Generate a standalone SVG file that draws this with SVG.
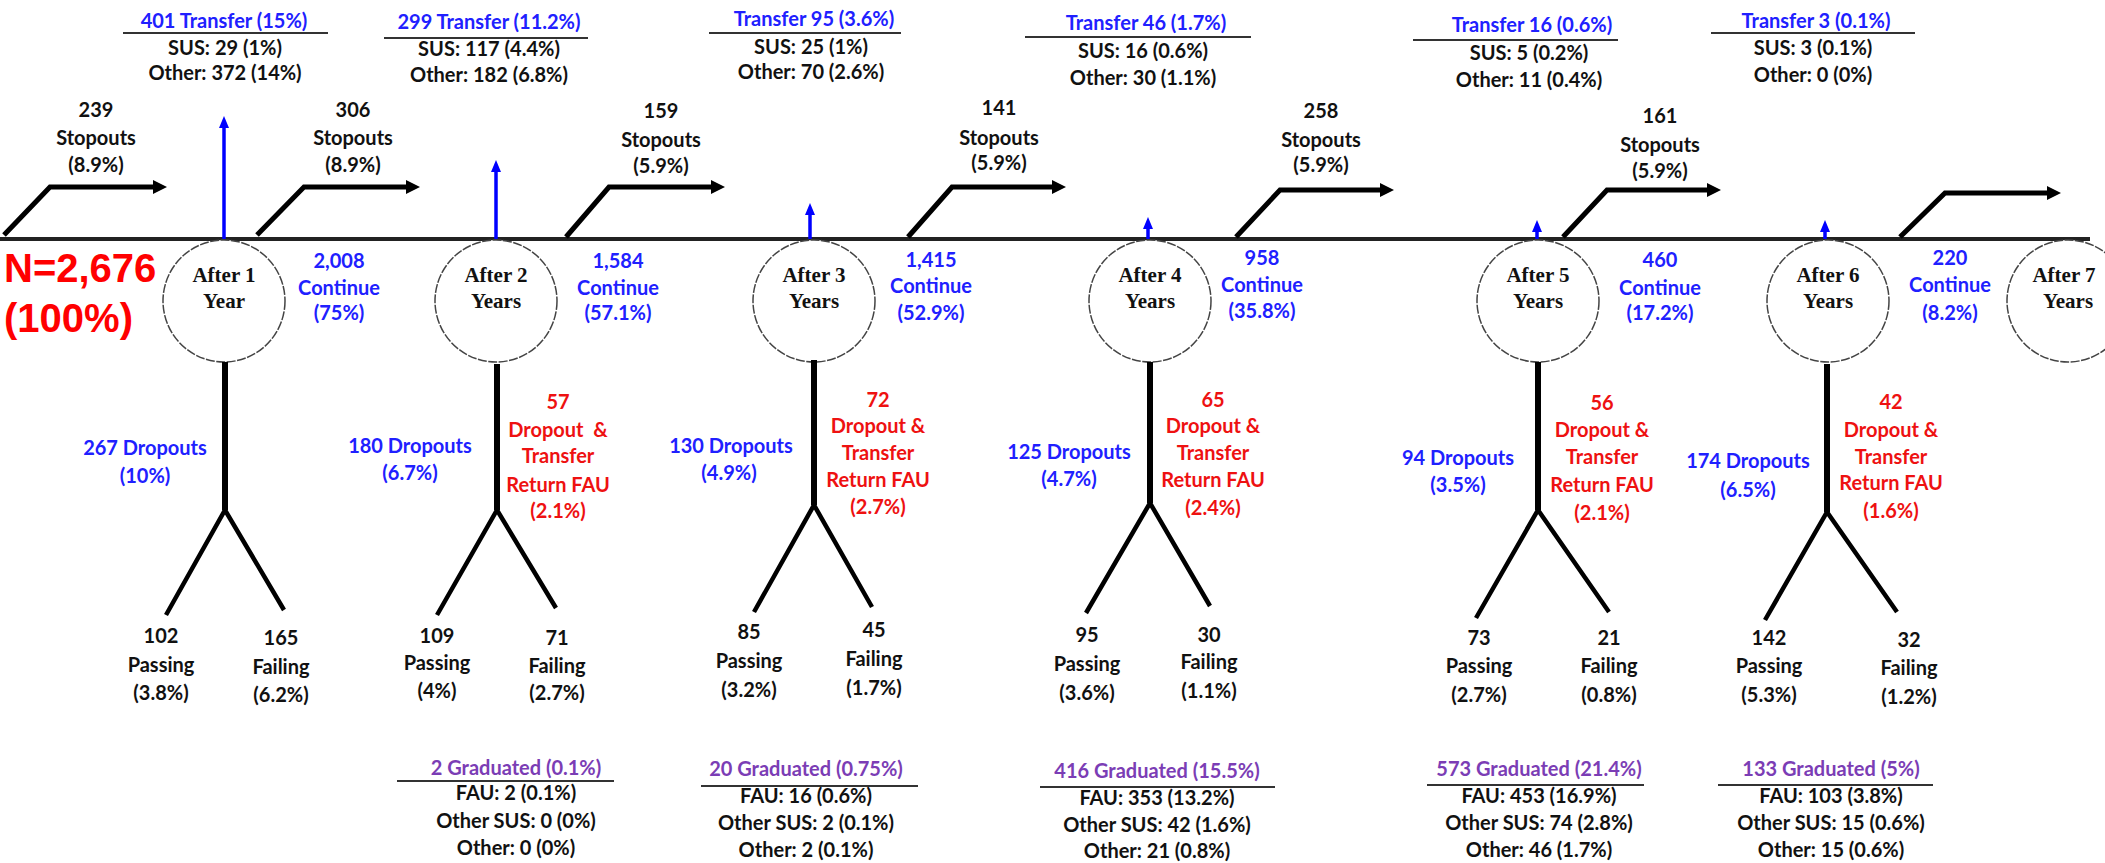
<svg xmlns="http://www.w3.org/2000/svg" width="2105" height="863" viewBox="0 0 2105 863">
<style>
.t{font-family:Lato,"Liberation Sans",sans-serif;font-weight:bold;font-size:20px;text-anchor:middle;fill:#111}
.b{fill:#2020ff}
.r{fill:#ee1111}
.p{fill:#7b3db5}
.yr{font-family:"Liberation Serif",serif;font-weight:bold;font-size:21px;text-anchor:middle;fill:#111}
.big{font-family:"Liberation Sans",Arial,sans-serif;font-weight:bold;font-size:40px;fill:#ff0000}
.circ{fill:#fff;stroke:#444;stroke-width:1.5;stroke-dasharray:9 1.5}
.sep{stroke:#333;stroke-width:2}
.stop{fill:none;stroke:#000;stroke-width:5;marker-end:url(#ah)}
.tr{stroke:#0000ff;stroke-width:3.5;marker-end:url(#bh)}
.stick{stroke:#000;stroke-width:6}
.leg{stroke:#000;stroke-width:4.5;fill:none}
</style>
<defs>
<marker id="ah" markerUnits="userSpaceOnUse" markerWidth="16" markerHeight="16" refX="0" refY="7" orient="auto"><path d="M0,0 L14,7 L0,14 z" fill="#000"/></marker>
<marker id="bh" markerUnits="userSpaceOnUse" markerWidth="14" markerHeight="12" refX="0" refY="5" orient="auto"><path d="M0,0 L12,5 L0,10 z" fill="#0000ff"/></marker>
</defs>
<rect width="2105" height="863" fill="#fff"/>

<g id="connectors">
<line x1="0" y1="239" x2="2090" y2="239" stroke="#222" stroke-width="4"/>
<path class="stop" d="M4,235 L50,187 L153,187"/>
<path class="stop" d="M257,235 L304,187 L406,187"/>
<path class="stop" d="M566,237 L609,187 L711,187"/>
<path class="stop" d="M908,237 L952,187 L1052,187"/>
<path class="stop" d="M1236,237 L1280,190 L1380,190"/>
<path class="stop" d="M1563,237 L1607,190 L1707,190"/>
<path class="stop" d="M1900,237 L1945,193 L2047,193"/>
<line class="tr" x1="224" y1="239" x2="224" y2="128"/>
<line class="tr" x1="496" y1="239" x2="496" y2="172"/>
<line class="tr" x1="810" y1="239" x2="810" y2="215"/>
<line class="tr" x1="1148" y1="239" x2="1148" y2="229"/>
<line class="tr" x1="1537" y1="239" x2="1537" y2="232"/>
<line class="tr" x1="1825" y1="239" x2="1825" y2="232"/>
</g>

<g id="start"><text class="big" x="4" y="282">N=2,676</text><text class="big" x="4" y="332">(100%)</text></g>

<g id="after1"><circle class="circ" cx="224" cy="301" r="61"/><text class="yr" x="224" y="282">After 1</text><text class="yr" x="224" y="308">Year</text></g>
<g id="after2"><circle class="circ" cx="496" cy="301" r="61"/><text class="yr" x="496" y="282">After 2</text><text class="yr" x="496" y="308">Years</text></g>
<g id="after3"><circle class="circ" cx="814" cy="301" r="61"/><text class="yr" x="814" y="282">After 3</text><text class="yr" x="814" y="308">Years</text></g>
<g id="after4"><circle class="circ" cx="1150" cy="301" r="61"/><text class="yr" x="1150" y="282">After 4</text><text class="yr" x="1150" y="308">Years</text></g>
<g id="after5"><circle class="circ" cx="1538" cy="301" r="61"/><text class="yr" x="1538" y="282">After 5</text><text class="yr" x="1538" y="308">Years</text></g>
<g id="after6"><circle class="circ" cx="1828" cy="301" r="61"/><text class="yr" x="1828" y="282">After 6</text><text class="yr" x="1828" y="308">Years</text></g>
<g id="after7"><circle class="circ" cx="2068" cy="301" r="61"/><text class="yr" x="2064" y="282">After 7</text><text class="yr" x="2068" y="308">Years</text></g>

<g id="transfer1"><text class="t b" x="224" y="28">401 Transfer (15%)</text><line class="sep" x1="123" y1="33" x2="328" y2="33"/><text class="t" x="225" y="55">SUS: 29 (1%)</text><text class="t" x="225" y="80">Other: 372 (14%)</text></g>
<g id="transfer2"><text class="t b" x="489" y="29">299 Transfer (11.2%)</text><line class="sep" x1="384" y1="38" x2="588" y2="38"/><text class="t" x="489" y="56">SUS: 117 (4.4%)</text><text class="t" x="489" y="82">Other: 182 (6.8%)</text></g>
<g id="transfer3"><text class="t b" x="814" y="26">Transfer 95 (3.6%)</text><line class="sep" x1="709" y1="33" x2="901" y2="33"/><text class="t" x="811" y="54">SUS: 25 (1%)</text><text class="t" x="811" y="79">Other: 70 (2.6%)</text></g>
<g id="transfer4"><text class="t b" x="1146" y="30">Transfer 46 (1.7%)</text><line class="sep" x1="1025" y1="37" x2="1251" y2="37"/><text class="t" x="1143" y="58">SUS: 16 (0.6%)</text><text class="t" x="1143" y="85">Other: 30 (1.1%)</text></g>
<g id="transfer5"><text class="t b" x="1532" y="32">Transfer 16 (0.6%)</text><line class="sep" x1="1413" y1="40" x2="1618" y2="40"/><text class="t" x="1529" y="60">SUS: 5 (0.2%)</text><text class="t" x="1529" y="87">Other:  11 (0.4%)</text></g>
<g id="transfer6"><text class="t b" x="1816" y="28">Transfer 3 (0.1%)</text><line class="sep" x1="1711" y1="33" x2="1915" y2="33"/><text class="t" x="1813" y="55">SUS: 3 (0.1%)</text><text class="t" x="1813" y="82">Other: 0 (0%)</text></g>

<g id="stopout1"><text class="t" x="96" y="117">239</text><text class="t" x="96" y="145">Stopouts</text><text class="t" x="96" y="172">(8.9%)</text></g>
<g id="stopout2"><text class="t" x="353" y="117">306</text><text class="t" x="353" y="145">Stopouts</text><text class="t" x="353" y="172">(8.9%)</text></g>
<g id="stopout3"><text class="t" x="661" y="118">159</text><text class="t" x="661" y="147">Stopouts</text><text class="t" x="661" y="173">(5.9%)</text></g>
<g id="stopout4"><text class="t" x="999" y="115">141</text><text class="t" x="999" y="145">Stopouts</text><text class="t" x="999" y="170">(5.9%)</text></g>
<g id="stopout5"><text class="t" x="1321" y="118">258</text><text class="t" x="1321" y="147">Stopouts</text><text class="t" x="1321" y="172">(5.9%)</text></g>
<g id="stopout6"><text class="t" x="1660" y="123">161</text><text class="t" x="1660" y="152">Stopouts</text><text class="t" x="1660" y="178">(5.9%)</text></g>

<g id="continue1"><text class="t b" x="339" y="268">2,008</text><text class="t b" x="339" y="295">Continue</text><text class="t b" x="339" y="320">(75%)</text></g>
<g id="continue2"><text class="t b" x="618" y="268">1,584</text><text class="t b" x="618" y="295">Continue</text><text class="t b" x="618" y="320">(57.1%)</text></g>
<g id="continue3"><text class="t b" x="931" y="267">1,415</text><text class="t b" x="931" y="293">Continue</text><text class="t b" x="931" y="320">(52.9%)</text></g>
<g id="continue4"><text class="t b" x="1262" y="265">958</text><text class="t b" x="1262" y="292">Continue</text><text class="t b" x="1262" y="318">(35.8%)</text></g>
<g id="continue5"><text class="t b" x="1660" y="267">460</text><text class="t b" x="1660" y="295">Continue</text><text class="t b" x="1660" y="320">(17.2%)</text></g>
<g id="continue6"><text class="t b" x="1950" y="265">220</text><text class="t b" x="1950" y="292">Continue</text><text class="t b" x="1950" y="320">(8.2%)</text></g>

<g id="figure1"><line class="stick" x1="225" y1="362" x2="225" y2="510"/><path class="leg" d="M166,615 L225,510 L284,610"/>
<text class="t b" x="145" y="455">267 Dropouts</text><text class="t b" x="145" y="483">(10%)</text>
<text class="t" x="161" y="643">102</text><text class="t" x="161" y="672">Passing</text><text class="t" x="161" y="700">(3.8%)</text>
<text class="t" x="281" y="645">165</text><text class="t" x="281" y="674">Failing</text><text class="t" x="281" y="702">(6.2%)</text></g>

<g id="figure2"><line class="stick" x1="497" y1="364" x2="497" y2="510"/><path class="leg" d="M437,615 L497,510 L556,608"/>
<text class="t b" x="410" y="453">180 Dropouts</text><text class="t b" x="410" y="480">(6.7%)</text>
<text class="t r" x="558" y="409">57</text><text class="t r" x="558" y="437" xml:space="preserve">Dropout  &amp;</text><text class="t r" x="558" y="463">Transfer</text><text class="t r" x="558" y="492">Return FAU</text><text class="t r" x="558" y="518">(2.1%)</text>
<text class="t" x="437" y="643">109</text><text class="t" x="437" y="670">Passing</text><text class="t" x="437" y="698">(4%)</text>
<text class="t" x="557" y="645">71</text><text class="t" x="557" y="673">Failing</text><text class="t" x="557" y="700">(2.7%)</text></g>

<g id="figure3"><line class="stick" x1="814" y1="360" x2="814" y2="505"/><path class="leg" d="M754,612 L814,505 L872,607"/>
<text class="t b" x="731" y="453">130 Dropouts</text><text class="t b" x="729" y="480">(4.9%)</text>
<text class="t r" x="878" y="407">72</text><text class="t r" x="878" y="433">Dropout &amp;</text><text class="t r" x="878" y="460">Transfer</text><text class="t r" x="878" y="487">Return FAU</text><text class="t r" x="878" y="514">(2.7%)</text>
<text class="t" x="749" y="639">85</text><text class="t" x="749" y="668">Passing</text><text class="t" x="749" y="697">(3.2%)</text>
<text class="t" x="874" y="637">45</text><text class="t" x="874" y="666">Failing</text><text class="t" x="874" y="695">(1.7%)</text></g>

<g id="figure4"><line class="stick" x1="1150" y1="362" x2="1150" y2="503"/><path class="leg" d="M1086,613 L1150,503 L1210,606"/>
<text class="t b" x="1069" y="459">125 Dropouts</text><text class="t b" x="1069" y="486">(4.7%)</text>
<text class="t r" x="1213" y="407">65</text><text class="t r" x="1213" y="433">Dropout &amp;</text><text class="t r" x="1213" y="460">Transfer</text><text class="t r" x="1213" y="487">Return FAU</text><text class="t r" x="1213" y="515">(2.4%)</text>
<text class="t" x="1087" y="642">95</text><text class="t" x="1087" y="671">Passing</text><text class="t" x="1087" y="700">(3.6%)</text>
<text class="t" x="1209" y="642">30</text><text class="t" x="1209" y="669">Failing</text><text class="t" x="1209" y="698">(1.1%)</text></g>

<g id="figure5"><line class="stick" x1="1538" y1="362" x2="1538" y2="510"/><path class="leg" d="M1476,618 L1538,510 L1609,612"/>
<text class="t b" x="1458" y="465">94 Dropouts</text><text class="t b" x="1458" y="492">(3.5%)</text>
<text class="t r" x="1602" y="410">56</text><text class="t r" x="1602" y="437">Dropout &amp;</text><text class="t r" x="1602" y="464">Transfer</text><text class="t r" x="1602" y="492">Return FAU</text><text class="t r" x="1602" y="520">(2.1%)</text>
<text class="t" x="1479" y="645">73</text><text class="t" x="1479" y="673">Passing</text><text class="t" x="1479" y="702">(2.7%)</text>
<text class="t" x="1609" y="645">21</text><text class="t" x="1609" y="673">Failing</text><text class="t" x="1609" y="702">(0.8%)</text></g>

<g id="figure6"><line class="stick" x1="1827" y1="364" x2="1827" y2="512"/><path class="leg" d="M1765,620 L1827,512 L1897,612"/>
<text class="t b" x="1748" y="468">174 Dropouts</text><text class="t b" x="1748" y="497">(6.5%)</text>
<text class="t r" x="1891" y="409">42</text><text class="t r" x="1891" y="437">Dropout &amp;</text><text class="t r" x="1891" y="464">Transfer</text><text class="t r" x="1891" y="490">Return FAU</text><text class="t r" x="1891" y="518">(1.6%)</text>
<text class="t" x="1769" y="645">142</text><text class="t" x="1769" y="673">Passing</text><text class="t" x="1769" y="702">(5.3%)</text>
<text class="t" x="1909" y="647">32</text><text class="t" x="1909" y="675">Failing</text><text class="t" x="1909" y="704">(1.2%)</text></g>

<g id="graduated2"><text class="t p" x="516" y="775">2 Graduated (0.1%)</text><line class="sep" x1="397" y1="781" x2="614" y2="781"/><text class="t" x="516" y="800">FAU: 2 (0.1%)</text><text class="t" x="516" y="828">Other SUS: 0 (0%)</text><text class="t" x="516" y="855">Other: 0 (0%)</text></g>
<g id="graduated3"><text class="t p" x="806" y="776">20 Graduated (0.75%)</text><line class="sep" x1="701" y1="786" x2="918" y2="786"/><text class="t" x="806" y="803">FAU: 16 (0.6%)</text><text class="t" x="806" y="830">Other SUS: 2 (0.1%)</text><text class="t" x="806" y="857">Other: 2 (0.1%)</text></g>
<g id="graduated4"><text class="t p" x="1157" y="778">416 Graduated (15.5%)</text><line class="sep" x1="1040" y1="787" x2="1275" y2="787"/><text class="t" x="1157" y="805">FAU: 353 (13.2%)</text><text class="t" x="1157" y="832">Other SUS: 42 (1.6%)</text><text class="t" x="1157" y="858">Other: 21 (0.8%)</text></g>
<g id="graduated5"><text class="t p" x="1539" y="776">573 Graduated (21.4%)</text><line class="sep" x1="1427" y1="785" x2="1644" y2="785"/><text class="t" x="1539" y="803">FAU: 453 (16.9%)</text><text class="t" x="1539" y="830">Other SUS: 74 (2.8%)</text><text class="t" x="1539" y="857">Other: 46 (1.7%)</text></g>
<g id="graduated6"><text class="t p" x="1831" y="776">133 Graduated (5%)</text><line class="sep" x1="1718" y1="785" x2="1933" y2="785"/><text class="t" x="1831" y="803">FAU: 103 (3.8%)</text><text class="t" x="1831" y="830">Other SUS: 15 (0.6%)</text><text class="t" x="1831" y="857">Other: 15 (0.6%)</text></g>
</svg>
